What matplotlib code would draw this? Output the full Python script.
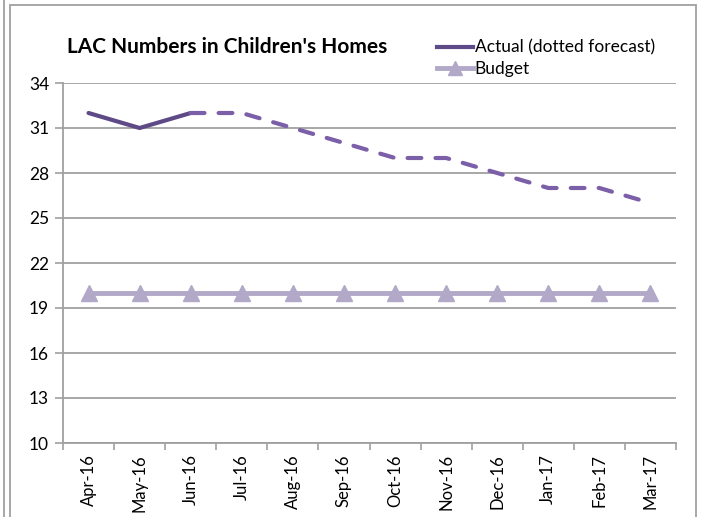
import matplotlib.pyplot as plt
from matplotlib.lines import Line2D
from matplotlib.patches import Rectangle
import numpy as np

plt.rcParams['font.family'] = ['Lato', 'DejaVu Sans']

months = ["Apr-16", "May-16", "Jun-16", "Jul-16", "Aug-16", "Sep-16",
          "Oct-16", "Nov-16", "Dec-16", "Jan-17", "Feb-17", "Mar-17"]
actual = [32, 31, 32]
forecast = [32, 32, 31, 30, 29, 29, 28, 27, 27, 26]
budget = [20] * 12

dark = "#5e4a86"
mid = "#7b5fa8"
light = "#b2a8c8"
grid_col = "#a0a0a0"

fig = plt.figure(figsize=(7.02, 5.17), dpi=100)
W, H = 702, 517
ax = fig.add_axes([63 / W, 1 - 443 / H, (676 - 63) / W, (443 - 83) / H])

x = np.arange(len(months))
ax.plot(x, budget, color=light, lw=3.5, marker="^", ms=11, zorder=3)
ax.plot(x[:3], actual, color=dark, lw=3, solid_capstyle="round", zorder=4)
ax.plot(x[2:], forecast, color=mid, lw=3, linestyle=(0, (3.3, 3.4)),
        dash_capstyle="round", zorder=4)

ax.set_xlim(-0.5, len(months) - 0.5)
ax.set_ylim(10, 34)
ax.set_yticks(range(10, 35, 3))
ax.set_xticks(x)
ax.set_xticklabels(months, rotation=90)
ax.set_xticks(np.arange(-0.5, len(months), 1), minor=True)
ax.tick_params(axis="x", which="major", length=0, labelsize=12, pad=8)
ax.tick_params(axis="x", which="minor", length=5, color=grid_col, width=1.2)
ax.tick_params(axis="y", length=6, color=grid_col, width=1.2, labelsize=12.5, pad=4)
ax.yaxis.grid(True, color=grid_col, lw=1.3)
ax.set_axisbelow(True)
for s in ["top", "right"]:
    ax.spines[s].set_visible(False)
for s in ["left", "bottom"]:
    ax.spines[s].set_color(grid_col)
    ax.spines[s].set_linewidth(1.3)

fig.text(67 / W, 1 - 47 / H, "LAC Numbers in Children's Homes",
         fontsize=15, fontweight="bold", va="center", ha="left")

handles = [Line2D([], [], color=dark, lw=3),
           Line2D([], [], color=light, lw=3.5, marker="^", ms=10)]
fig.legend(handles, ["Actual (dotted forecast)", "Budget"],
           loc="upper left", bbox_to_anchor=(428 / W, 1 - 31 / H),
           frameon=False, fontsize=12.5, handlelength=2.1, handletextpad=0.1,
           labelspacing=0.28, borderpad=0)

# outer chart frame
fig.patches.append(Rectangle((10 / W, -0.05), (696 - 10) / W, 1.05 - 5 / H,
                             transform=fig.transFigure, fill=False,
                             edgecolor=grid_col, lw=1.3))
fig.add_artist(Line2D([4 / W, 4 / W], [0, 1], transform=fig.transFigure,
                      color=grid_col, lw=1.3))

plt.savefig("out.png")
